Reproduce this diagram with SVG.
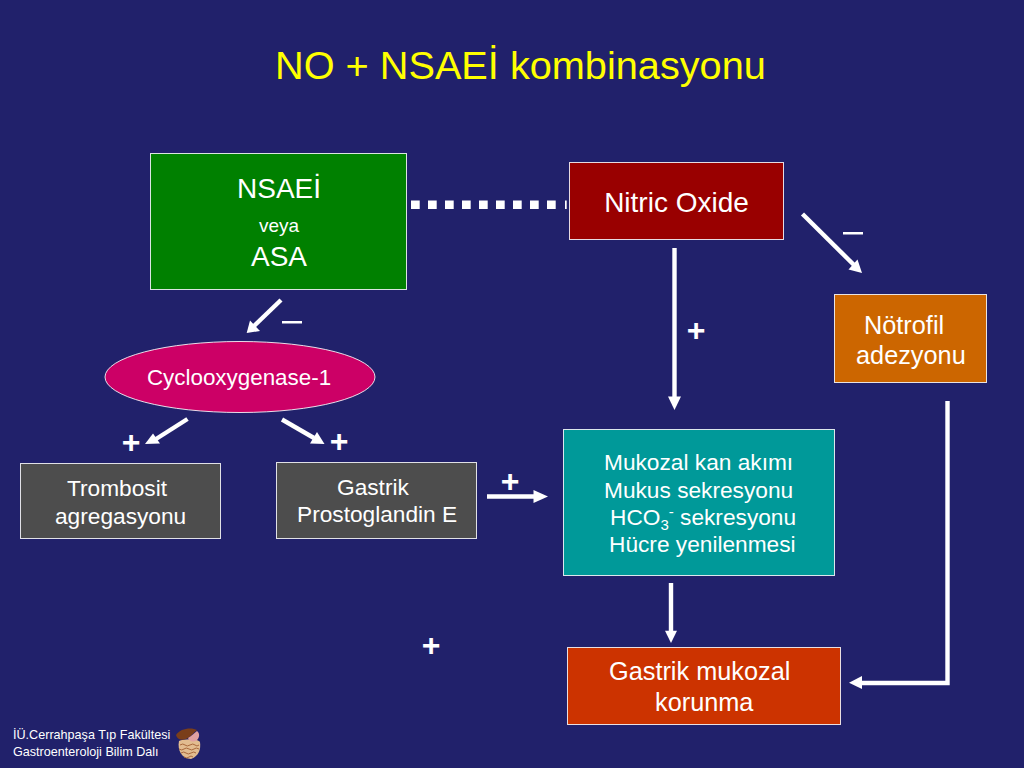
<svg xmlns="http://www.w3.org/2000/svg" width="1024" height="768" viewBox="0 0 1024 768">
<defs>
<style>
text{font-family:"Liberation Sans",Arial,sans-serif;fill:#fff}
.box{stroke:#fff;stroke-width:1;stroke-opacity:.85}
.a{stroke:#fff;stroke-width:4.400;fill:none}
.h{fill:#fff;stroke:none}
.s{font-size:22.7px}
.b{font-size:28px}
.m{font-size:25.3px}
.f{font-size:12.6px}
.sign{font-size:32px;font-weight:bold}
.coil{fill:none;stroke:#a8683c;stroke-width:1}
</style>
</defs>
<rect width="1024" height="768" fill="#21216b"/>
<text x="275" y="79" style="font-size:39.700px;fill:#ffff00">NO + NSAEİ kombinasyonu</text>

<g id="connectors">
<path d="M411 200.500h8.700v8.500h-8.700zM428 200.500h8.700v8.500h-8.700zM445 200.500h8.700v8.500h-8.700zM462 200.500h8.700v8.500h-8.700zM479 200.500h8.700v8.500h-8.700zM496 200.500h8.700v8.500h-8.700zM513 200.500h8.700v8.500h-8.700zM530 200.500h8.700v8.500h-8.700zM547 200.500h8.700v8.500h-8.700zM565 200.500h1.700v8.500h-1.700z" class="h"/>
<path class="a" d="M281 300L254 326"/><path class="h" d="M246.700 333L250 320.500L260 331Z"/>
<path class="a" d="M187.500 419L156 439"/><path class="h" d="M145 444L153 433.500L160 443.500Z"/>
<path class="a" d="M282 419.500L314 438"/><path class="h" d="M324.500 444L310 443.500L317 432Z"/>
<path class="a" d="M802.500 214L854 265"/><path class="h" d="M862 273L848.500 269.500L857.500 259.500Z"/>
<path class="a" d="M674.500 248V398"/><path class="h" d="M668 396.500H681L674.500 410Z"/>
<path class="a" d="M487 496.500H535"/><path class="h" d="M533.500 490V503L548 496.500Z"/>
<path class="a" d="M671 583V632"/><path class="h" d="M665 630.700H677L671 643Z"/>
<path class="a" d="M947.500 401V683H860"/><path class="h" d="M862 676V689L849 682.700Z"/>
</g>

<g id="nsaei">
<rect class="box" x="150.500" y="153.500" width="256" height="136" fill="#008000"/>
<text x="279" y="198" text-anchor="middle" class="b">NSAEİ</text>
<text x="279" y="232" text-anchor="middle" style="font-size:19px">veya</text>
<text x="279" y="266" text-anchor="middle" class="b">ASA</text>
</g>
<g id="nitric-oxide">
<rect class="box" x="569.500" y="162.500" width="214" height="77" fill="#990000"/>
<text x="676.500" y="212" text-anchor="middle" class="b">Nitric Oxide</text>
</g>
<g id="minus-signs">
<rect x="282" y="321" width="20" height="2.500" fill="#fff"/>
<rect x="843" y="232" width="20" height="2.500" fill="#fff"/>
</g>
<g id="notrofil">
<rect class="box" x="834.500" y="294.500" width="152" height="88" fill="#cc6600"/>
<text x="864" y="334" class="m">Nötrofil</text>
<text x="856" y="364" class="m">adezyonu</text>
</g>
<g id="cox1">
<ellipse class="box" cx="240" cy="377" rx="135" ry="35.500" fill="#cc0066"/>
<text x="239" y="385" text-anchor="middle" style="font-size:22.4px">Cyclooxygenase-1</text>
</g>
<g id="trombosit">
<rect class="box" x="20.500" y="463.500" width="200" height="75" fill="#4d4d4d"/>
<text x="67" y="496" class="s">Trombosit</text>
<text x="55" y="524" class="s">agregasyonu</text>
</g>
<g id="gastrik-pge">
<rect class="box" x="276.500" y="462.500" width="200" height="76" fill="#4d4d4d"/>
<text x="337" y="495" class="s">Gastrik</text>
<text x="297" y="522" class="s">Prostoglandin E</text>
</g>
<g id="mukozal">
<rect class="box" x="563.500" y="429.500" width="271" height="146" fill="#009999"/>
<text x="604" y="470" class="s">Mukozal kan akımı</text>
<text x="604" y="497.500" class="s">Mukus sekresyonu</text>
<text x="610" y="525" class="s">HCO<tspan dy="5" style="font-size:15px">3</tspan><tspan dy="-13" style="font-size:15px">-</tspan><tspan dy="8"> sekresyonu</tspan></text>
<text x="609" y="552" class="s">Hücre yenilenmesi</text>
</g>
<g id="gastrik-mukozal">
<rect class="box" x="567.500" y="647.500" width="273" height="77" fill="#cc3300"/>
<text x="609" y="680" class="m">Gastrik mukozal</text>
<text x="655" y="711" class="m">korunma</text>
</g>
<g id="plus-signs">
<text x="131" y="453" text-anchor="middle" class="sign">+</text>
<text x="339" y="452" text-anchor="middle" class="sign">+</text>
<text x="696" y="341" text-anchor="middle" class="sign">+</text>
<text x="510" y="492" text-anchor="middle" class="sign">+</text>
<text x="431" y="656" text-anchor="middle" class="sign">+</text>
</g>
<g id="footer">
<text x="13" y="739" class="f">İÜ.Cerrahpaşa Tıp Fakültesi</text>
<text x="13" y="755.500" class="f">Gastroenteroloji Bilim Dalı</text>
<path d="M179 741C183 739 197 738 200 742C201 749 199 756 191 759C182 759 177 750 179 741Z" fill="#e2bc90"/>
<path class="coil" d="M180 745q3 -2 5 0t5 0t5 0t4 0M179 749q3 2 5 0t5 0t5 0t5 0M181 753q3 -2 5 0t5 0t5 0M184 757q3 2 5 0t4 0"/>
<path d="M176 735C180 728 192 727 197 730C193 733 192 736 186 739C181 741 177 739 176 735Z" fill="#7a3e1a"/>
<path d="M188 738C192 736 194 733 197 731C200 733 200 738 196 741C192 742 189 741 188 738Z" fill="#e0a0a0"/>
</g>
</svg>
